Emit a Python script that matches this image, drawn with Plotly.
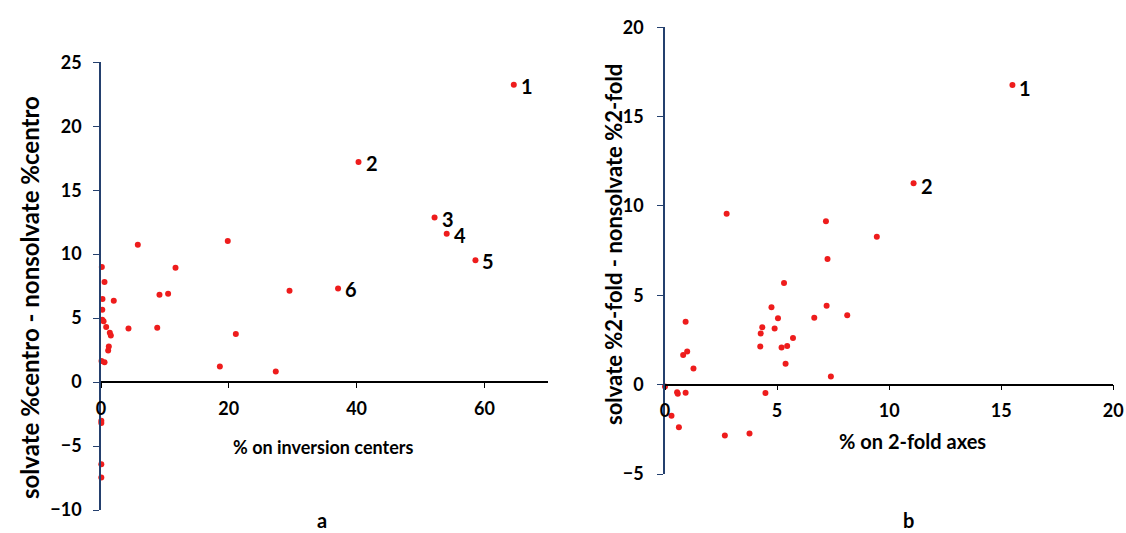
import plotly.graph_objects as go

W, H = 1126, 533

# ---- Panel a data ----
a_x = [64.6, 40.3, 52.2, 54.1, 58.6, 37.1, 29.5, 19.84, 5.76, 11.66, 9.15, 10.5, 8.8, 4.3,
       21.1, 18.6, 27.35, 2.0, 0.13, 0.55, 0.23, 0.2, 0.2, 0.4, 0.81, 1.38, 1.54, 1.22, 1.12,
       0.08, 0.55, 0.05, 0.05, 0.05, 0.05]
a_y = [23.24, 17.2, 12.86, 11.6, 9.53, 7.32, 7.14, 11.02, 10.73, 8.94, 6.83, 6.9, 4.25, 4.19,
       3.75, 1.22, 0.83, 6.36, 8.99, 7.82, 6.49, 5.65, 4.87, 4.75, 4.3, 3.85, 3.65, 2.78, 2.47,
       1.64, 1.56, -3.03, -3.2, -6.42, -7.45]
a_labels = ["1", "2", "3", "4", "5", "6"]

# ---- Panel b data ----
b_x = [15.5, 11.09, 2.75, 7.18, 9.45, 7.25, 5.31, 4.75, 7.21, 8.13, 5.04, 6.66, 0.92, 4.34,
       4.27, 4.89, 5.71, 4.25, 5.2, 5.45, 0.99, 0.81, 1.27, 5.38, 7.4, 0.0, 0.54, 0.57, 0.92,
       4.48, 0.29, 0.62, 2.67, 3.77]
b_y = [16.77, 11.27, 9.57, 9.15, 8.28, 7.03, 5.69, 4.33, 4.42, 3.88, 3.71, 3.74, 3.52, 3.21,
       2.87, 3.14, 2.61, 2.14, 2.08, 2.17, 1.85, 1.66, 0.91, 1.17, 0.45, -0.1, -0.42, -0.51,
       -0.45, -0.47, -1.74, -2.38, -2.85, -2.74]
b_labels = ["1", "2"]

a_ticks_x = [0, 20, 40, 60]
a_ticks_y = [-10, -5, 0, 5, 10, 15, 20, 25]
b_ticks_x = [0, 5, 10, 15, 20]
b_ticks_y = [-5, 0, 5, 10, 15, 20]

FONT = "Lato"
RED = "#EE1C1C"
NAVY = "#24406E"

def px(x):
    return x / W

def py(y):
    return 1 - y / H

fig = go.Figure()
fig.add_trace(go.Scatter(x=a_x, y=a_y, mode="markers", xaxis="x", yaxis="y",
                         marker=dict(color=RED, size=6), cliponaxis=False, showlegend=False))
fig.add_trace(go.Scatter(x=b_x, y=b_y, mode="markers", xaxis="x2", yaxis="y2",
                         marker=dict(color=RED, size=6), cliponaxis=False, showlegend=False))

tickfont = dict(family=FONT, size=18, color="black", weight="bold")

a_x0, a_x1 = 101, 548.3
a_ytop, a_ybot = 62.3, 510
a_zero = 382.3
b_x0, b_x1 = 665, 1113.3
b_ytop, b_ybot = 27.3, 474
b_zero = 384.6

common = dict(automargin=False, showgrid=False, zeroline=False, showline=True,
              ticks="outside", tickfont=tickfont, tickwidth=1.4, linewidth=1.6)

fig.update_layout(
    width=W, height=H, margin=dict(l=0, r=0, t=0, b=0, pad=0), autosize=False,
    paper_bgcolor="white", plot_bgcolor="rgba(0,0,0,0)",
    xaxis=dict(domain=[px(a_x0), px(a_x1)], range=[0, 70], tickvals=a_ticks_x,
               anchor="free", position=py(a_zero), linecolor="black",
               ticklen=5, tickcolor="black", ticklabelstandoff=5, **common),
    yaxis=dict(domain=[py(a_ybot), py(a_ytop)], range=[-10, 25], tickvals=a_ticks_y,
               anchor="x", linecolor=NAVY, ticklen=6, tickcolor=NAVY,
               ticklabelstandoff=8, **common),
    xaxis2=dict(domain=[px(b_x0), px(b_x1)], range=[0, 20], tickvals=b_ticks_x,
                anchor="free", position=py(b_zero), linecolor="black",
                ticklen=5, tickcolor="black", ticklabelstandoff=5, **common),
    yaxis2=dict(domain=[py(b_ybot), py(b_ytop)], range=[-5, 20], tickvals=b_ticks_y,
                anchor="x2", linecolor=NAVY, ticklen=6, tickcolor=NAVY,
                ticklabelstandoff=10, **common),
)

ann = []
lblfont = dict(family=FONT, size=20, color="black", weight="bold")
for i, t in enumerate(a_labels):
    ann.append(dict(x=a_x[i], y=a_y[i], xref="x", yref="y", text=t, showarrow=False,
                    xanchor="left", yanchor="middle", xshift=5, yshift=-1, font=lblfont))
for i, t in enumerate(b_labels):
    ann.append(dict(x=b_x[i], y=b_y[i], xref="x2", yref="y2", text=t, showarrow=False,
                    xanchor="left", yanchor="middle", xshift=5, yshift=-3, font=lblfont))

ann += [
    dict(x=px(323), y=py(447), xref="paper", yref="paper", text="% on inversion centers",
         showarrow=False, xanchor="center", yanchor="middle",
         font=dict(family=FONT, size=18, color="black", weight="bold")),
    dict(x=px(322), y=py(520), xref="paper", yref="paper", text="a",
         showarrow=False, xanchor="center", yanchor="middle",
         font=dict(family=FONT, size=20, color="black", weight="bold")),
    dict(x=px(29), y=py(298), xref="paper", yref="paper",
         text="solvate %centro - nonsolvate %centro", textangle=-90,
         showarrow=False, xanchor="center", yanchor="middle",
         font=dict(family=FONT, size=24, color="black", weight="bold")),
    dict(x=px(912), y=py(441), xref="paper", yref="paper", text="% on 2-fold axes",
         showarrow=False, xanchor="center", yanchor="middle",
         font=dict(family=FONT, size=20, color="black", weight="bold")),
    dict(x=px(908), y=py(520), xref="paper", yref="paper", text="b",
         showarrow=False, xanchor="center", yanchor="middle",
         font=dict(family=FONT, size=20, color="black", weight="bold")),
    dict(x=px(614), y=py(245), xref="paper", yref="paper",
         text="solvate %2-fold - nonsolvate %2-fold", textangle=-90,
         showarrow=False, xanchor="center", yanchor="middle",
         font=dict(family=FONT, size=22, color="black", weight="bold")),
]
fig.update_layout(annotations=ann)

fig.write_html("out.html")
